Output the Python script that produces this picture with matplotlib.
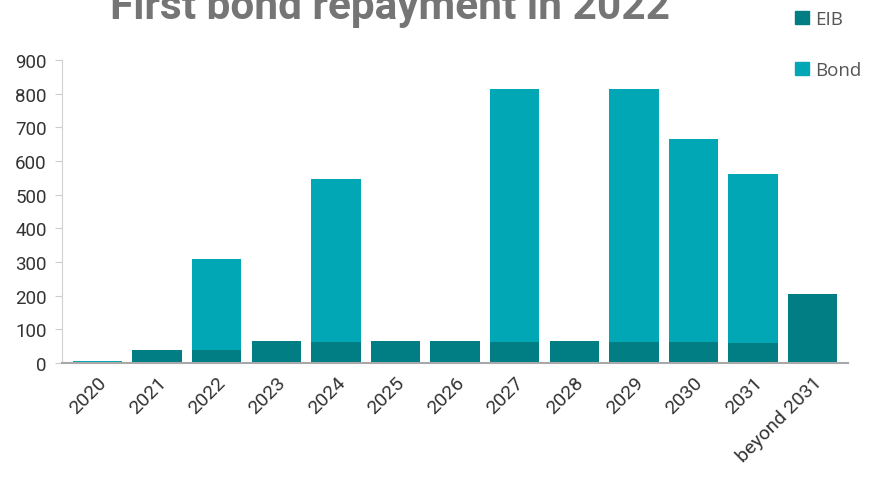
import matplotlib
matplotlib.use("Agg")
import matplotlib.pyplot as plt
from matplotlib.patches import Patch

categories = ["2020", "2021", "2022", "2023", "2024", "2025", "2026",
              "2027", "2028", "2029", "2030", "2031", "beyond 2031"]
eib = [2, 40, 40, 65, 63, 65, 65, 63, 65, 63, 63, 60, 205]
bond = [3, 0, 270, 0, 483, 0, 0, 752, 0, 752, 602, 501, 0]

c_eib = "#017E84"
c_bond = "#01A7B4"

fig = plt.figure(figsize=(8.71, 4.81), dpi=100)
ax = fig.add_axes([0.071, 0.243, 0.903, 0.630])

x = range(len(categories))
ax.bar(x, eib, width=0.83, color=c_eib, label="EIB")
ax.bar(x, bond, width=0.83, bottom=eib, color=c_bond, label="Bond")

ax.set_ylim(0, 900)
ax.set_xlim(-0.6, len(categories) - 0.4)
ax.set_yticks(range(0, 901, 100))
ax.set_xticks(list(x))
ax.set_xticklabels(categories, rotation=45, ha="right", rotation_mode="anchor")
ax.tick_params(axis="y", labelsize=13.5, length=5, color="#cccccc", pad=6)
ax.tick_params(axis="x", labelsize=14, length=0, pad=7)
for lbl in ax.get_yticklabels() + ax.get_xticklabels():
    lbl.set_fontfamily("Roboto")
    lbl.set_color("#333333")

for s in ["top", "right"]:
    ax.spines[s].set_visible(False)
ax.spines["left"].set_color("#d0d0d0")
ax.spines["bottom"].set_color("#a8a8a8")
ax.spines["bottom"].set_linewidth(1.5)

fig.text(0.448, 1 - 19 / 481, "First bond repayment in 2022", ha="center", va="baseline",
         fontsize=30.5, fontweight="bold", color="#757575", family="Roboto")

handles = [Patch(color=c_eib), Patch(color=c_bond)]
leg = fig.legend(handles, ["EIB", "Bond"], loc="upper left",
                 bbox_to_anchor=(0.893, 1.012), frameon=False,
                 handlelength=0.75, handleheight=0.75, handletextpad=0.35,
                 labelspacing=1.75, prop={"family": "Open Sans", "size": 13.5})
for t in leg.get_texts():
    t.set_color("#555555")

fig.savefig("out.png", dpi=100)
